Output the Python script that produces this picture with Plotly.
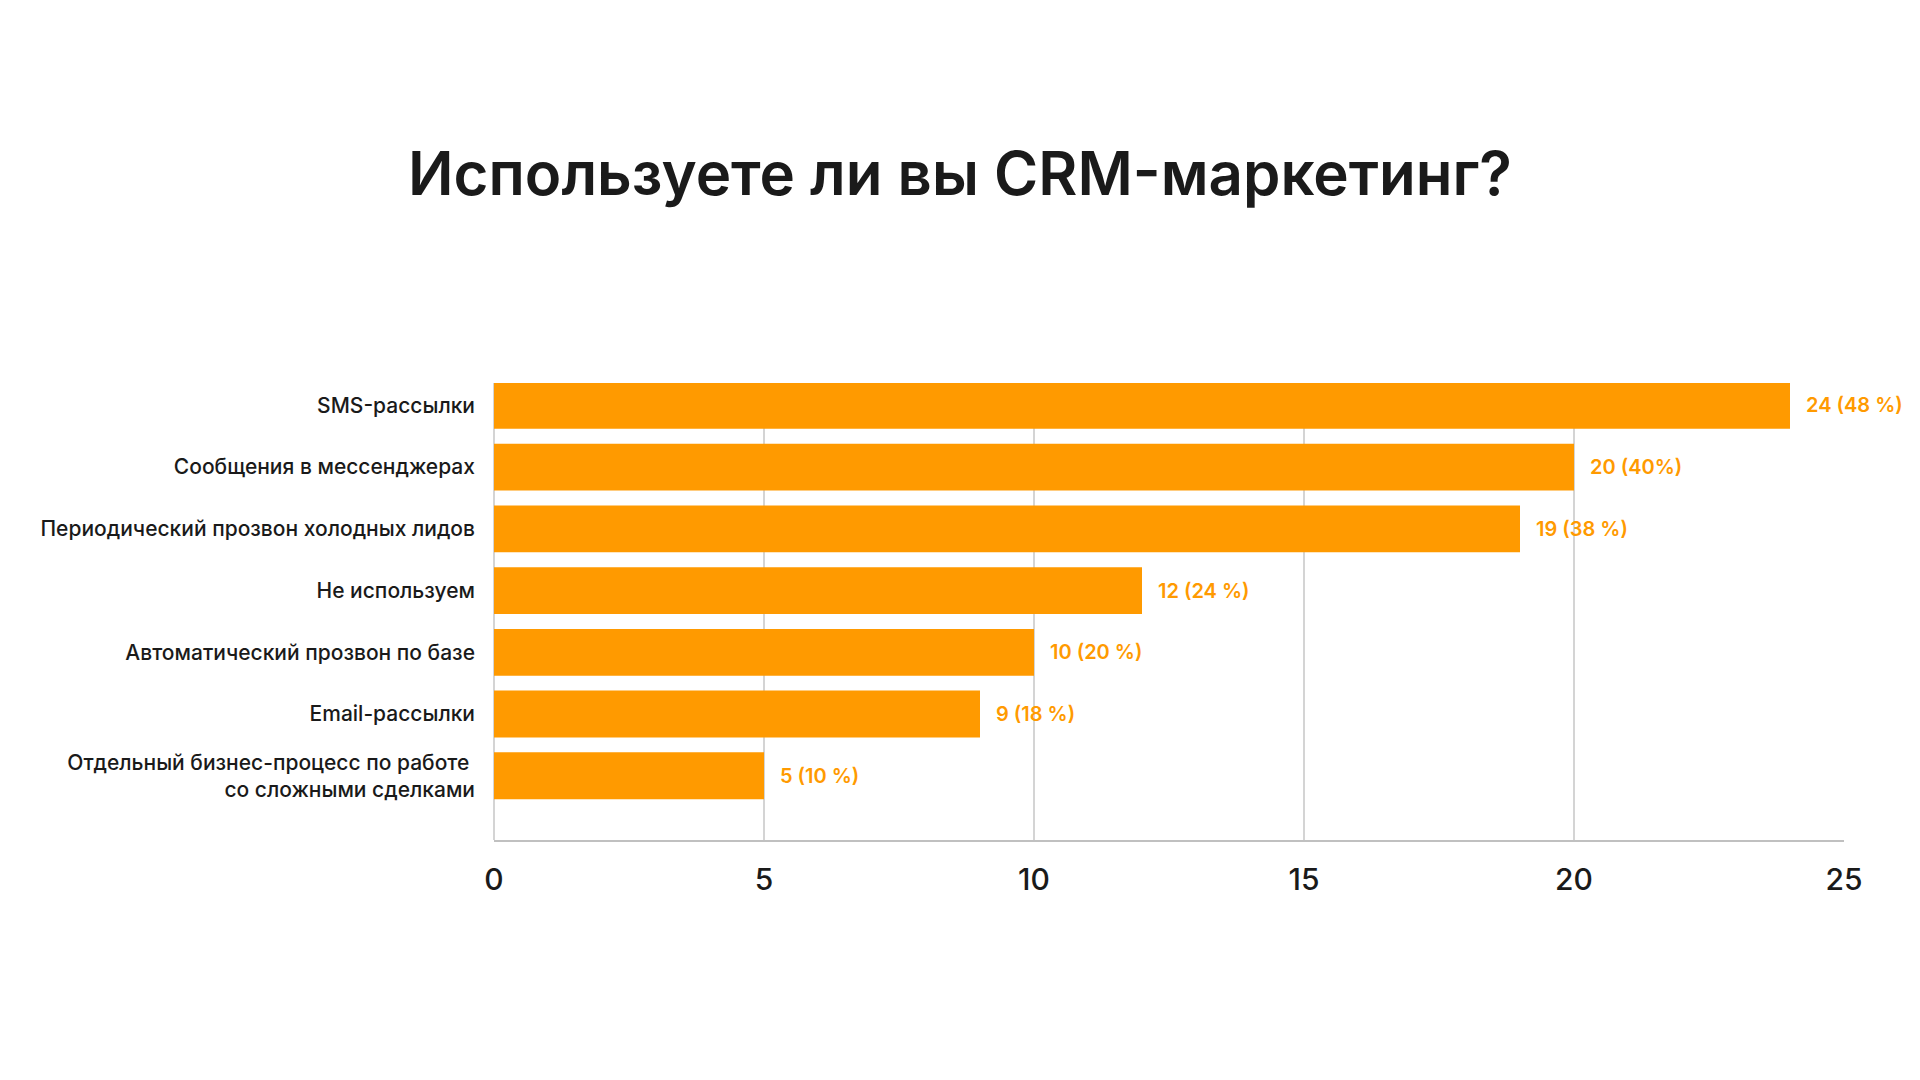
import plotly.graph_objects as go

categories = [
    "SMS-рассылки",
    "Сообщения в мессенджерах",
    "Периодический прозвон холодных лидов",
    "Не используем",
    "Автоматический прозвон по базе",
    "Email-рассылки",
    "Отдельный бизнес-процесс по работе <br>со сложными сделками",
]
counts = [24, 20, 19, 12, 10, 9, 5]
labels = ["24 (48 %)", "20 (40%)", "19 (38 %)", "12 (24 %)", "10 (20 %)", "9 (18 %)", "5 (10 %)"]
x_ticks = [0, 5, 10, 15, 20, 25]

ORANGE = "#FF9A00"
DARK = "#1a1a1a"
FONT = "Inter"

fig = go.Figure(
    go.Bar(
        x=counts,
        y=categories,
        orientation="h",
        marker=dict(color=ORANGE, line=dict(width=0)),
        hoverinfo="skip",
    )
)

for c, v, t in zip(categories, counts, labels):
    fig.add_annotation(
        x=v, y=c, text=t, showarrow=False, xanchor="left", yanchor="middle",
        xshift=14, font=dict(family=FONT, size=20, color=ORANGE, weight=600),
    )

fig.update_layout(
    width=1920, height=1080,
    paper_bgcolor="white", plot_bgcolor="white",
    margin=dict(l=494, r=76, t=383, b=240),
    bargap=0.24,
    showlegend=False,
    title=dict(
        text="Используете ли вы CRM-маркетинг?",
        x=0.5, xanchor="center", y=1 - 174 / 1080, yanchor="middle", yref="container",
        font=dict(family=FONT, size=60, color=DARK, weight=600),
    ),
)

fig.update_xaxes(
    range=[0, 25], tickvals=x_ticks, ticktext=[str(v) for v in x_ticks],
    showgrid=True, gridcolor="#d4d4d4", gridwidth=1.5,
    zeroline=True, zerolinecolor="#d4d4d4", zerolinewidth=1.5,
    showline=True, linecolor="#c0c0c0", linewidth=2,
    ticks="", ticklabelstandoff=12,
    tickfont=dict(family=FONT, size=30, color=DARK, weight=500),
)
fig.update_yaxes(
    categoryorder="array", categoryarray=categories,
    range=[7.04, -0.363],
    showgrid=False, zeroline=False, showline=False, ticks="",
    ticklabelstandoff=18,
    tickfont=dict(family=FONT, size=21, color=DARK, weight=500),
)

fig.write_html("out.html")
